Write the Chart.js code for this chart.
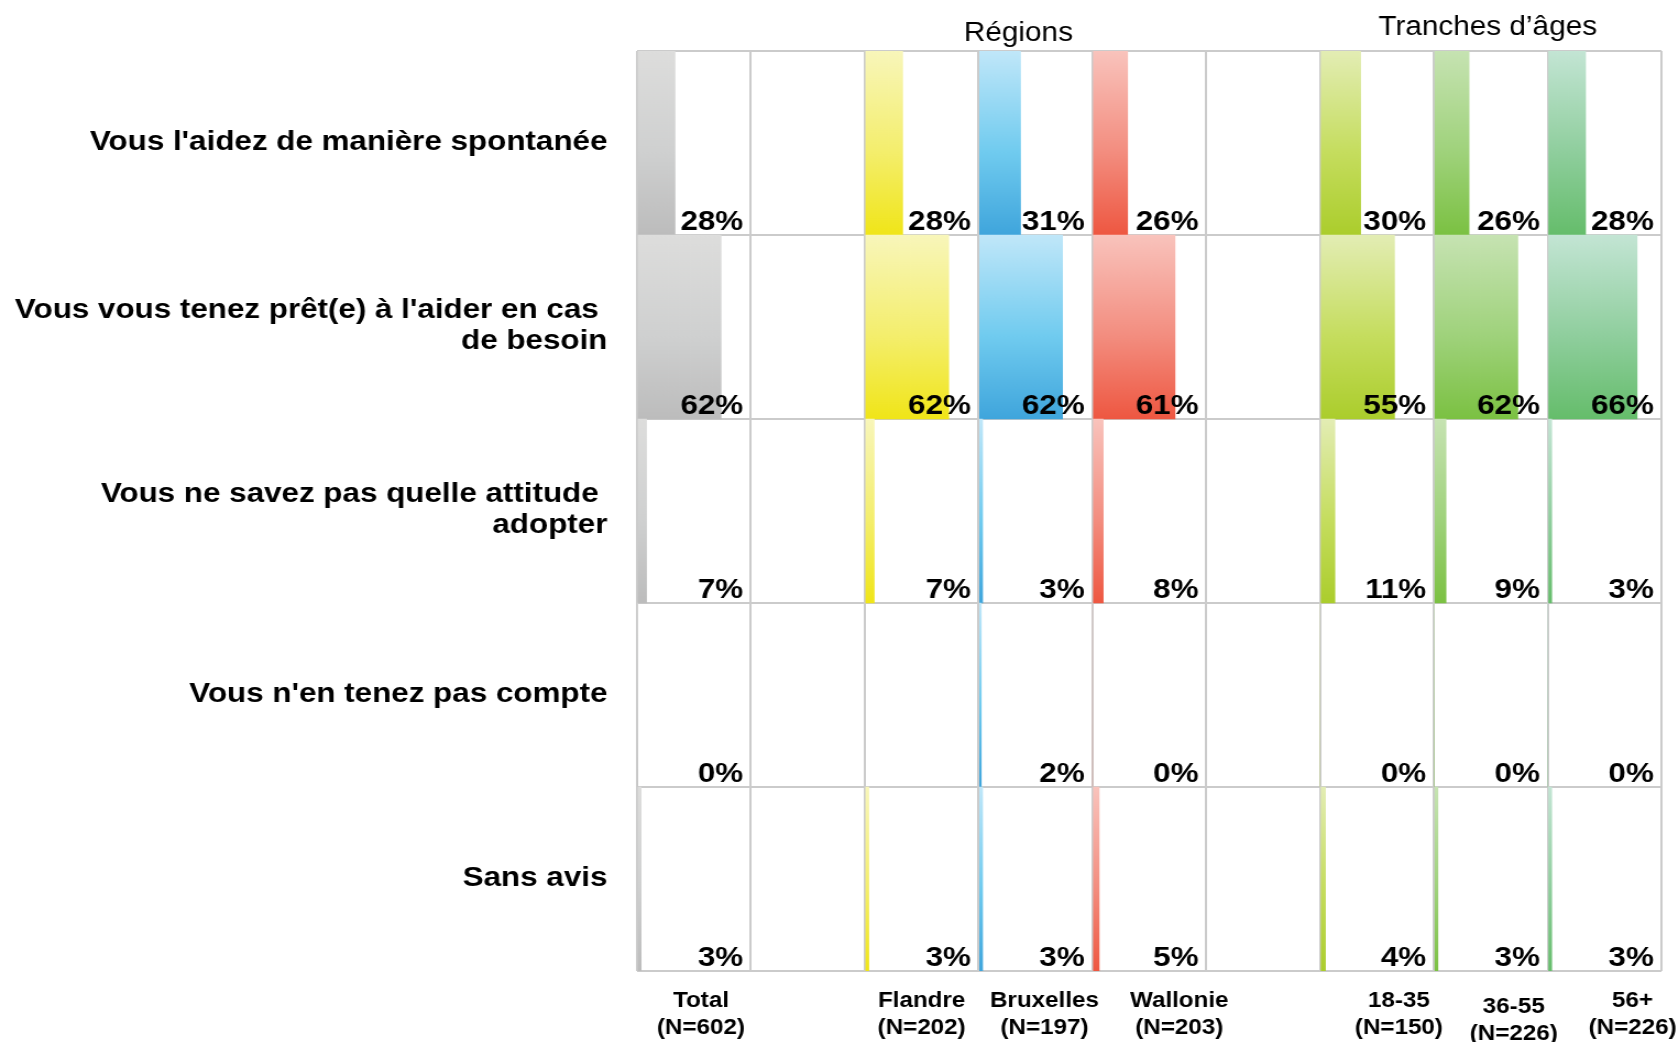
<!DOCTYPE html>
<html>
<head>
<meta charset="utf-8">
<script src="https://cdn.jsdelivr.net/npm/chart.js@4.4.1/dist/chart.umd.min.js"></script>
<style>
  html, body { margin: 0; padding: 0; background: #fff; overflow: hidden; }
  /* the original picture is stretched horizontally, so the whole chart is too */
  #wrap { position: absolute; left: 0; top: 0; width: 1526px; height: 1042px; transform: scaleX(1.1003); transform-origin: 0 0; }
</style>
</head>
<body>
<div id="wrap"><canvas id="chart"></canvas></div>
<script>
// DATA
const rowLabels = [
  "Vous l'aidez de manière spontanée",
  ["Vous vous tenez prêt(e) à l'aider en cas ", "de besoin"],
  ["Vous ne savez pas quelle attitude ", "adopter"],
  "Vous n'en tenez pas compte",
  "Sans avis"
];
const columnLabels = [
  ['Total', '(N=602)'], null,
  ['Flandre', '(N=202)'], ['Bruxelles', '(N=197)'], ['Wallonie', '(N=203)'], null,
  ['18-35', '(N=150)'], ['36-55', '(N=226)'], ['56+', '(N=226)']
];
const groupTitles = ['Régions', 'Tranches d’âges'];
const totalValues     = [28, 62, 7, 0, 3];
const flandreValues   = [28, 62, 7, null, 3];
const bruxellesValues = [31, 62, 3, 2, 3];
const wallonieValues  = [26, 61, 8, 0, 5];
const age1835Values   = [30, 55, 11, 0, 4];
const age3655Values   = [26, 62, 9, 0, 3];
const age56Values     = [28, 66, 3, 0, 3];
const xMax = 84;

// STYLE
const SX = 1.1003;
const FONT = '"Liberation Sans", Arial, sans-serif';
const GRID = '#cbcbcb';
const series = [
  { col: 0, values: totalValues,     colors: ['#dddddc', '#cfd0d0', '#bcbcbc'] },
  { col: 2, values: flandreValues,   colors: ['#f8f6ba', '#f4ee6c', '#f0e518'] },
  { col: 3, values: bruxellesValues, colors: ['#c0e7f9', '#70cbef', '#3fa5dc'] },
  { col: 4, values: wallonieValues,  colors: ['#f9c3bc', '#f38d7f', '#ee5741'] },
  { col: 6, values: age1835Values,   colors: ['#e3edb4', '#c5dd5e', '#abcd2c'] },
  { col: 7, values: age3655Values,   colors: ['#c6e3b2', '#9fd27b', '#7bc142'] },
  { col: 8, values: age56Values,     colors: ['#c3e5d4', '#8fce9d', '#65bd6b'] }
];
// horizontal shift of each bottom label (real px) and extra drop
const labelShift = [7, 0, 0, 9, 30, 0, 22, 23, 28];
const labelDrop  = [0, 0, 0, 0, 0, 0, 0, 6, 0];
const groups = [
  { text: groupTitles[0], from: 2, to: 4, shift: -17, base: 41 },
  { text: groupTitles[1], from: 6, to: 8, shift: -3,  base: 35 }
];

const gradientFor = (colors) => (ctx) => {
  const chart = ctx.chart;
  const y = chart.scales.y;
  if (!y || ctx.dataIndex === undefined) return colors[2];
  const c = y.getPixelForValue(ctx.dataIndex);
  const half = y.height / rowLabels.length / 2;
  if (!isFinite(c) || !isFinite(half) || half <= 0) return colors[2];
  const g = chart.ctx.createLinearGradient(0, c - half, 0, c + half);
  g.addColorStop(0, colors[0]);
  g.addColorStop(0.55, colors[1]);
  g.addColorStop(1, colors[2]);
  return g;
};

const scales = {
  y: {
    type: 'category',
    position: 'left',
    offset: true,
    grid: { offset: true, color: GRID, lineWidth: 2, drawTicks: false },
    border: { display: false },
    ticks: { color: '#000', padding: 27, labelOffset: -1, font: { family: FONT, size: 28.5, weight: 'bold', lineHeight: 1.09 } },
    afterFit: (scale) => { scale.width = 579; }
  }
};
columnLabels.forEach((lab, i) => {
  scales['x' + i] = {
    type: 'linear',
    position: 'bottom',
    stack: 'cols',
    stackWeight: 1,
    min: 0,
    max: xMax,
    z: 1,
    ticks: { display: false, stepSize: xMax },
    grid: { color: GRID, lineWidth: 2, drawTicks: false },
    border: { display: false }
  };
});

const textPlugin = {
  id: 'texts',
  afterDraw(chart) {
    const c = chart.ctx;
    const y = chart.scales.y;
    const half = y.height / rowLabels.length / 2;
    c.save();
    c.fillStyle = '#000';
    // values
    c.font = 'bold 28.5px ' + FONT;
    c.textAlign = 'right';
    c.textBaseline = 'alphabetic';
    series.forEach(s => {
      const xs = chart.scales['x' + s.col];
      s.values.forEach((v, j) => {
        if (v === null) return;
        c.fillText(v + '%', xs.right - 7, y.getPixelForValue(j) + half - 5);
      });
    });
    // bottom labels
    c.font = 'bold 22px ' + FONT;
    c.textAlign = 'center';
    columnLabels.forEach((lab, i) => {
      if (!lab) return;
      const xs = chart.scales['x' + i];
      const cx = (xs.left + xs.right) / 2 + labelShift[i] / SX;
      lab.forEach((line, k) => {
        c.fillText(line, cx, chart.chartArea.bottom + 36 + labelDrop[i] + k * 27);
      });
    });
    // group titles
    c.font = '27px ' + FONT;
    groups.forEach(g => {
      const a = chart.scales['x' + g.from], b = chart.scales['x' + g.to];
      c.fillText(g.text, (a.left + b.right) / 2 + g.shift / SX, g.base);
    });
    c.restore();
  }
};

new Chart(document.getElementById('chart'), {
  type: 'bar',
  data: {
    labels: rowLabels,
    datasets: series.map(s => ({
      data: s.values,
      xAxisID: 'x' + s.col,
      yAxisID: 'y',
      grouped: false,
      barPercentage: 1,
      categoryPercentage: 1,
      borderWidth: 0,
      backgroundColor: gradientFor(s.colors)
    }))
  },
  options: {
    indexAxis: 'y',
    responsive: true,
    maintainAspectRatio: false,
    animation: false,
    layout: { padding: { top: 51, bottom: 71, left: 0, right: 16 } },
    plugins: { legend: { display: false }, tooltip: { enabled: false } },
    scales: scales
  },
  plugins: [textPlugin]
});
</script>
</body>
</html>
